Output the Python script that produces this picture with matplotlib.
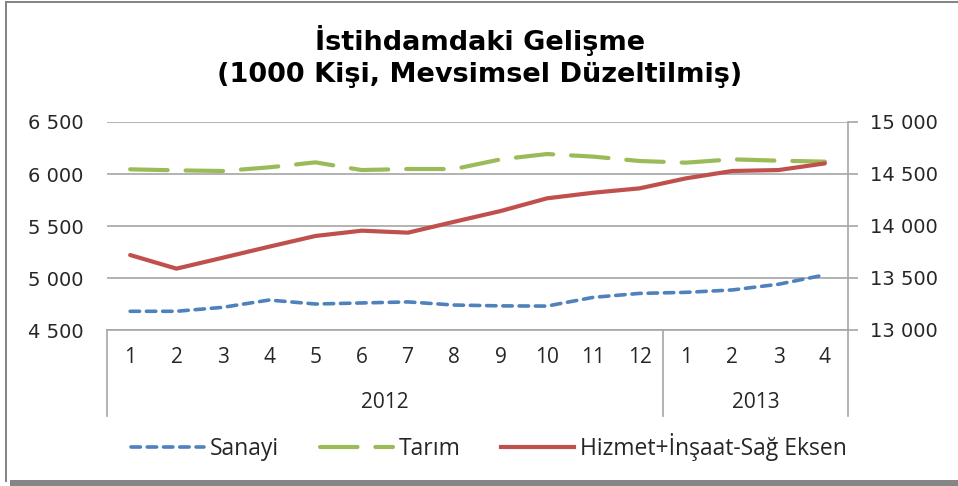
import matplotlib
matplotlib.use("Agg")
import matplotlib.pyplot as plt
from matplotlib.lines import Line2D
from matplotlib.patches import Rectangle

months = ["1", "2", "3", "4", "5", "6", "7", "8", "9", "10", "11", "12", "1", "2", "3", "4"]
years = ["2012", "2013"]
year_counts = [12, 4]

sanayi = [4680, 4680, 4718, 4788, 4750, 4760, 4770, 4740, 4732, 4730, 4814, 4852, 4862, 4885, 4940, 5030]
tarim = [6045, 6035, 6029, 6064, 6112, 6038, 6048, 6048, 6141, 6192, 6167, 6125, 6109, 6141, 6128, 6119]
hizmet = [13721, 13590, 13695, 13801, 13904, 13955, 13936, 14041, 14144, 14266, 14320, 14362, 14458, 14529, 14538, 14602]

left_ticks = [4500, 5000, 5500, 6000, 6500]
right_ticks = [13000, 13500, 14000, 14500, 15000]

W, H = 958, 486
fig = plt.figure(figsize=(W / 100, H / 100), dpi=100)
fig.patch.set_facecolor("white")

def fx(px):
    return px / W

def fy(py):
    return 1 - py / H

# frame
fig.add_artist(Rectangle((fx(5), fy(482)), fx(2), fy(1) - fy(482), transform=fig.transFigure,
                         facecolor="#858585", edgecolor="none"))
fig.add_artist(Rectangle((fx(5), fy(3)), 1, fy(1) - fy(3), transform=fig.transFigure,
                         facecolor="#858585", edgecolor="none"))
fig.add_artist(Rectangle((fx(10), 0), 1, fy(479.5), transform=fig.transFigure,
                         facecolor="#858585", edgecolor="none"))

L, R, T, B = 107, 848, 122, 330
ax = fig.add_axes([fx(L), fy(B), fx(R) - fx(L), fy(T) - fy(B)])
ax2 = ax.twinx()

def ay(py):
    return (fy(py) - fy(B)) / (fy(T) - fy(B))

n = len(months)
x = list(range(n))
blue, green, red = "#4F81BD", "#9BBB59", "#C0504D"
grid_c = "#A6A6A6"
txt_c = "#262626"

ax.set_xlim(-0.5, n - 0.5)
ax.set_ylim(4500, 6500)
ax2.set_ylim(13000, 15000)
ax.set_yticks(left_ticks)
ax2.set_yticks(right_ticks)
fmt = lambda v: f"{v:,}".replace(",", " ")
ax.set_yticklabels([fmt(v) for v in left_ticks])
ax2.set_yticklabels([fmt(v) for v in right_ticks])
ax.set_xticks([])
ax.yaxis.grid(True, color=grid_c, linewidth=1.2)
ax.set_axisbelow(True)

for a in (ax, ax2):
    for s in ["top", "left"]:
        a.spines[s].set_visible(False)
ax.spines["right"].set_visible(False)
ax.spines["bottom"].set_color(grid_c)
ax.spines["bottom"].set_linewidth(1.2)
ax2.spines["bottom"].set_visible(False)
ax2.spines["right"].set_color(grid_c)
ax2.spines["right"].set_linewidth(1.2)
ax.tick_params(axis="y", length=0, pad=17, labelsize=14, colors=txt_c)
ax2.tick_params(axis="y", length=7, width=1.2, color=grid_c, pad=9, labelsize=14, labelcolor=txt_c)

blue_dash = (2.6, 1.9)
green_dash = (9.0, 4.3)
ax.plot(x, sanayi, color=blue, linewidth=2.6, dashes=blue_dash, dash_capstyle="round", zorder=3)
ax.plot(x, tarim, color=green, linewidth=3, dashes=green_dash, dash_capstyle="round", zorder=3)
ax2.plot(x, hizmet, color=red, linewidth=3, solid_capstyle="round", zorder=3)

cat_font = ["Open Sans", "DejaVu Sans"]
trans = ax.get_xaxis_transform()
for i, m in enumerate(months):
    ax.text(i, ay(357), m, transform=trans, ha="center", va="center",
            fontsize=15, family=cat_font, color=txt_c)

# multi-level dividers
bounds = [-0.5]
for c in year_counts:
    bounds.append(bounds[-1] + c)
for b in bounds:
    ax.add_line(Line2D([b, b], [0, ay(416)], transform=trans, color=grid_c, linewidth=1.2,
                       clip_on=False))
for k, yr in enumerate(years):
    ax.text((bounds[k] + bounds[k + 1]) / 2, ay(403), yr, transform=trans, ha="center", va="center",
            fontsize=15, family=cat_font, color=txt_c)

fig.text(fx(480), fy(40), "İstihdamdaki Gelişme", ha="center", va="center", fontsize=19.5,
         fontweight="bold", color="black")
fig.text(fx(480), fy(75), "(1000 Kişi, Mevsimsel Düzeltilmiş)", ha="center", va="center",
         fontsize=19.5, fontweight="bold", color="black")

handles = [
    Line2D([], [], color=blue, linewidth=2.6, dashes=blue_dash, dash_capstyle="round"),
    Line2D([], [], color=green, linewidth=3, dashes=green_dash, dash_capstyle="round"),
    Line2D([], [], color=red, linewidth=3),
]
labels = ["Sanayi", "Tarım", "Hizmet+İnşaat-Sağ Eksen"]
fig.legend(handles, labels, loc="center left", bbox_to_anchor=(fx(131), fy(447)), ncol=3,
           frameon=False, borderpad=0, borderaxespad=0, handlelength=3.2, handletextpad=0.26,
           columnspacing=1.75, prop={"family": cat_font, "size": 16.5}, labelcolor=txt_c)

fig.savefig("out.png", dpi=100, facecolor="white")
